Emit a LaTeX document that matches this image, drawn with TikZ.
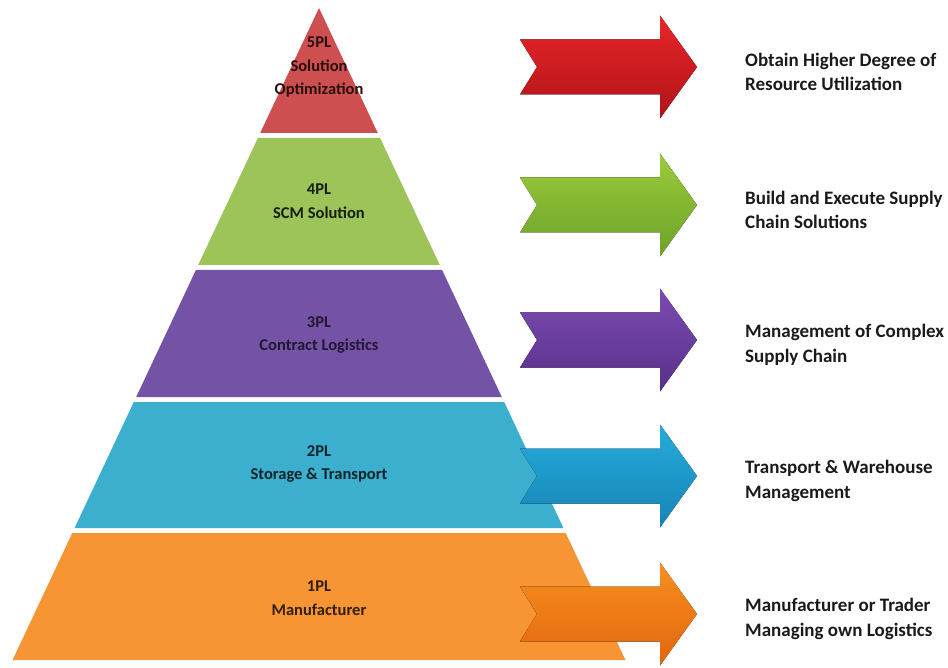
\documentclass[tikz,border=0pt]{standalone}
\usepackage{fontspec}
\setmainfont{Carlito}
\usetikzlibrary{positioning}

\definecolor{tierred}{HTML}{CD4F4F}
\definecolor{tiergreen}{HTML}{9CC458}
\definecolor{tierpurple}{HTML}{7452A6}
\definecolor{tierblue}{HTML}{3BAFCD}
\definecolor{tierorange}{HTML}{F79433}
\definecolor{labelink}{HTML}{1A1A1A}

% arrow colours, top and bottom of the shading
\definecolor{redtop}{HTML}{E8262A}
\definecolor{redbot}{HTML}{B01418}
\definecolor{greentop}{HTML}{9CCB3B}
\definecolor{greenbot}{HTML}{6CA22A}
\definecolor{purpletop}{HTML}{7B4BB0}
\definecolor{purplebot}{HTML}{58308C}
\definecolor{bluetop}{HTML}{26ACDB}
\definecolor{bluebot}{HTML}{1684B6}
\definecolor{orangetop}{HTML}{F7901E}
\definecolor{orangebot}{HTML}{E2650F}

% arrow with notched tail: #1 centre y, #2 top colour, #3 bottom colour
\newcommand {\tierarrow} [ 3 ] {%
\fill[top color=#2, bottom color=#3] (520,#1-27.5) -- (660,#1-27.5) -- (660,#1-51.5) -- (697,#1)
  -- (660,#1+51.5) -- (660,#1+27.5) -- (520,#1+27.5) -- (537,#1) -- cycle;%
}

\begin{document}
\begin{tikzpicture}[x=1pt, y=-1pt,
  tiertext/.style={align=center, inner sep=0pt, font=\fontsize{16.5}{23.5}\selectfont\bfseries},
  goaltext/.style={align=left, anchor=west, inner sep=0pt, text=labelink, font=\fontsize{19}{24.5}\selectfont\bfseries}]

		\useasboundingbox (0,0) rectangle (948,668);

		%the pyramid
		\fill[tierred] (319,8) -- (377.8,133) -- (260.2,133) -- cycle;
		\fill[tiergreen] (257.9,138) -- (380.1,138) -- (439.8,265) -- (198.2,265) -- cycle;
		\fill[tierpurple] (195.9,270) -- (442.1,270) -- (501.8,397) -- (136.2,397) -- cycle;
		\fill[tierblue] (133.8,402) -- (504.2,402) -- (563.4,528) -- (74.6,528) -- cycle;
		\fill[tierorange] (72.3,533) -- (565.7,533) -- (625.4,660) -- (12.6,660) -- cycle;

		\node[tiertext, text=tierred!20!black] (pl5) at (319,67) {5PL\\Solution\\Optimization};
		\node[tiertext, text=tiergreen!15!black] (pl4) at (319,201) {4PL\\SCM Solution};
		\node[tiertext, text=tierpurple!30!black] (pl3) at (319,335) {3PL\\Contract Logistics};
		\node[tiertext, text=tierblue!20!black] (pl2) at (319,464) {2PL\\Storage \& Transport};
		\node[tiertext, text=tierorange!20!black] (pl1) at (319,598) {1PL\\Manufacturer};

		% the arrows, over the right side of the pyramid
		\tierarrow{67}{redtop}{redbot}
		\tierarrow{205}{greentop}{greenbot}
		\tierarrow{340}{purpletop}{purplebot}
		\tierarrow{476}{bluetop}{bluebot}
		\tierarrow{614}{orangetop}{orangebot}

		% what each level does
		\coordinate (tip5) at (697,72);
		\coordinate (tip4) at (697,210);
		\coordinate (tip3) at (697,345);
		\coordinate (tip2) at (697,481);
		\coordinate (tip1) at (697,619);
		\node[goaltext, right=48pt of tip5] (goal5) {Obtain Higher Degree of\\Resource Utilization};
		\node[goaltext, right=48pt of tip4] (goal4) {Build and Execute Supply\\Chain Solutions};
		\node[goaltext, right=48pt of tip3] (goal3) {Management of Complex\\Supply Chain};
		\node[goaltext, right=48pt of tip2] (goal2) {Transport \& Warehouse\\Management};
		\node[goaltext, right=48pt of tip1] (goal1) {Manufacturer or Trader\\Managing own Logistics};

	\end{tikzpicture}
\end{document}
